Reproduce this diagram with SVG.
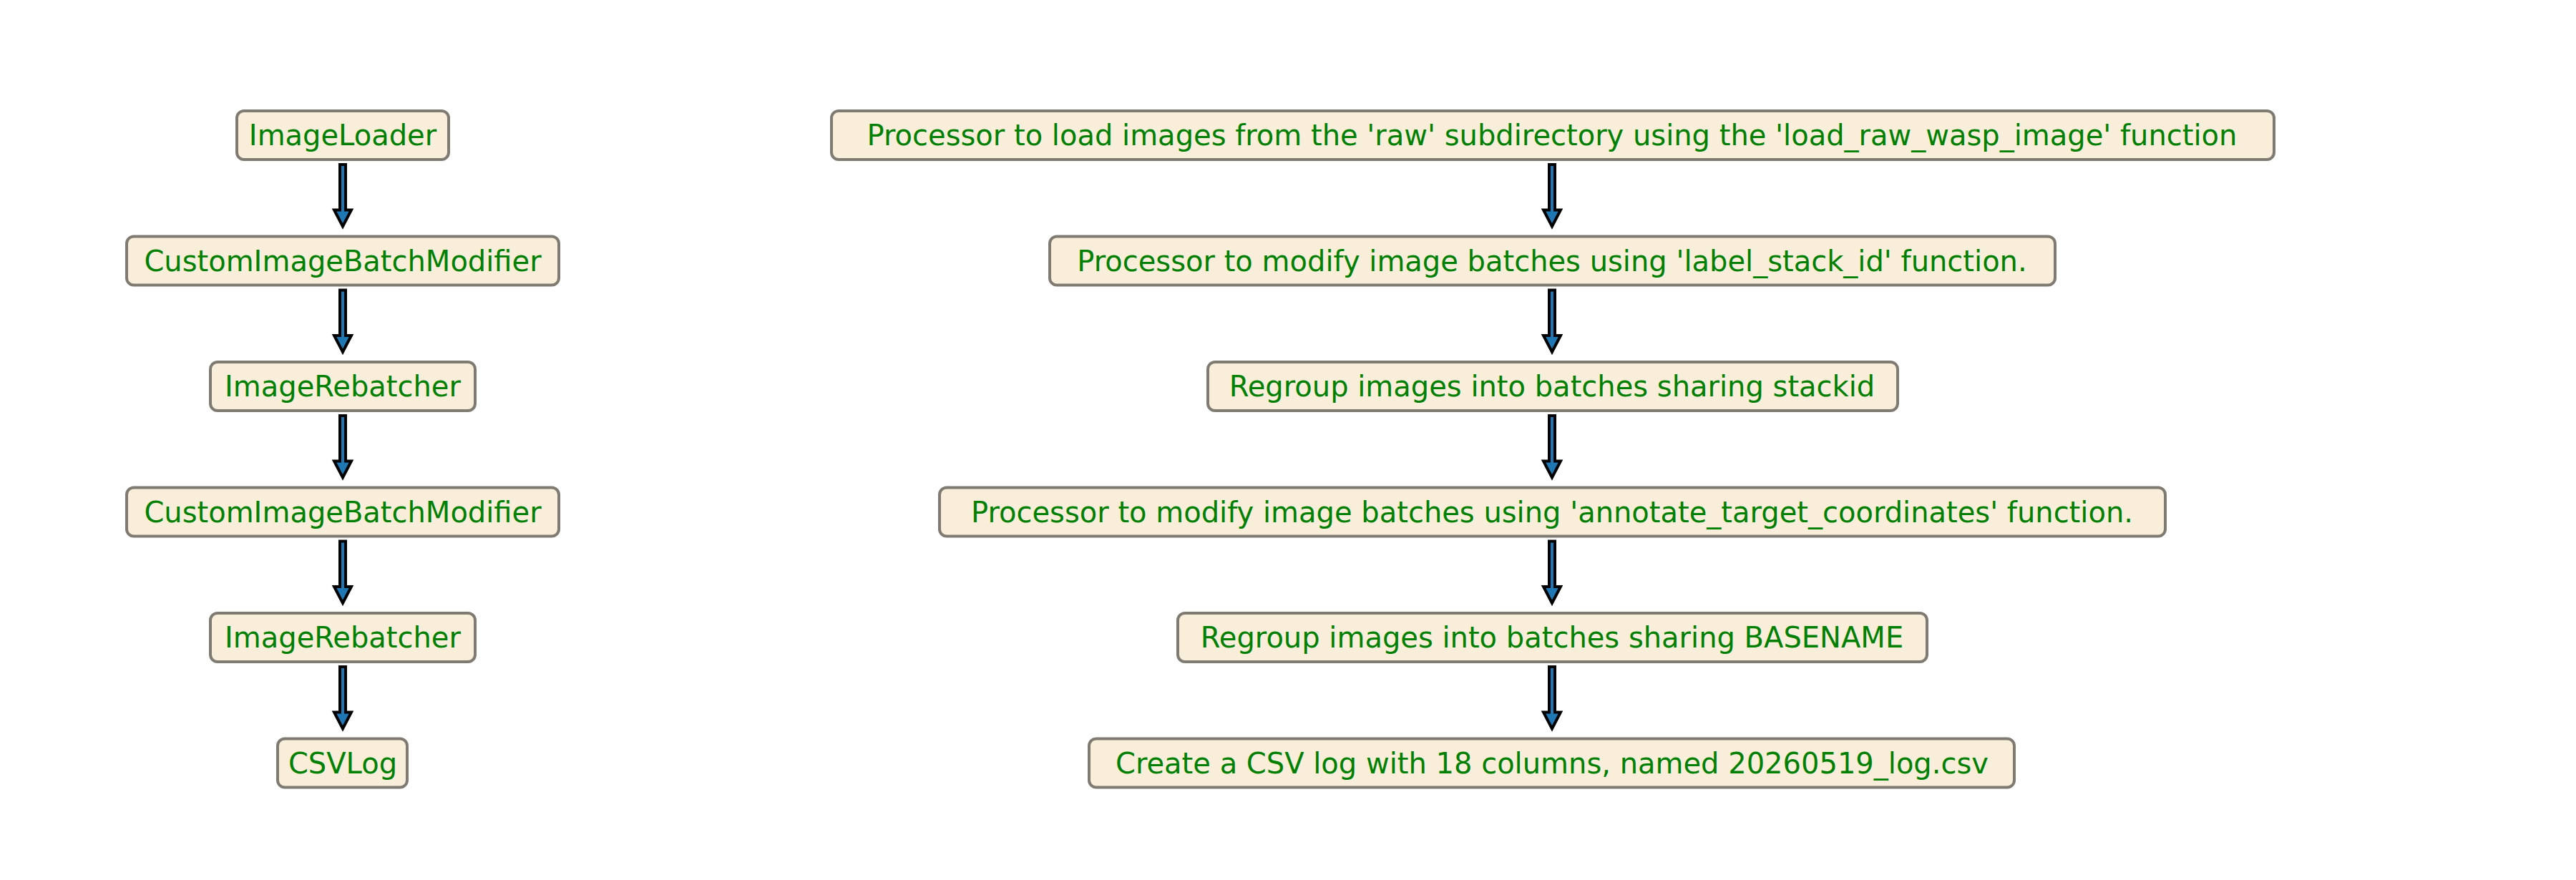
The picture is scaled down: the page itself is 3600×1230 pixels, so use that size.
<svg xmlns="http://www.w3.org/2000/svg" width="3600" height="1230" viewBox="0 0 3600 1230">
<style>
.b{fill:#f8eed9;stroke:#7f7a72;stroke-width:4}
.t{font-family:"DejaVu Sans",sans-serif;font-size:40px;fill:#008000;text-anchor:middle;dominant-baseline:central}
.a{fill:#1f77b4;stroke:#000;stroke-width:4;stroke-linejoin:miter}
</style>
<defs>
<path id="arr" class="a" d="M-4,0 L4,0 L4,63.5 L12,63.5 L0,86.5 L-12,63.5 L-4,63.5 Z"/>
</defs>
<rect width="3600" height="1230" fill="#fff"/>
<g id="l1"><rect class="b" x="331" y="155" width="296" height="68" rx="10"/><text class="t" x="479" y="189">ImageLoader</text></g>
<g id="l2"><rect class="b" x="177" y="330.5" width="604" height="68" rx="10"/><text class="t" x="479" y="364.5">CustomImageBatchModifier</text></g>
<g id="l3"><rect class="b" x="294" y="506" width="370" height="68" rx="10"/><text class="t" x="479" y="540">ImageRebatcher</text></g>
<g id="l4"><rect class="b" x="177" y="681.5" width="604" height="68" rx="10"/><text class="t" x="479" y="715.5">CustomImageBatchModifier</text></g>
<g id="l5"><rect class="b" x="294" y="857" width="370" height="68" rx="10"/><text class="t" x="479" y="891">ImageRebatcher</text></g>
<g id="l6"><rect class="b" x="388" y="1032.5" width="181" height="68" rx="10"/><text class="t" x="479" y="1066.5">CSVLog</text></g>
<g id="r1"><rect class="b" x="1162" y="155" width="2016" height="68" rx="10"/><text class="t" x="2169" y="189">Processor to load images from the 'raw' subdirectory using the 'load_raw_wasp_image' function</text></g>
<g id="r2"><rect class="b" x="1467" y="330.5" width="1405" height="68" rx="10"/><text class="t" x="2169" y="364.5">Processor to modify image batches using 'label_stack_id' function.</text></g>
<g id="r3"><rect class="b" x="1688" y="506" width="964" height="68" rx="10"/><text class="t" x="2169" y="540">Regroup images into batches sharing stackid</text></g>
<g id="r4"><rect class="b" x="1313" y="681.5" width="1713" height="68" rx="10"/><text class="t" x="2169" y="715.5">Processor to modify image batches using 'annotate_target_coordinates' function.</text></g>
<g id="r5"><rect class="b" x="1646" y="857" width="1047" height="68" rx="10"/><text class="t" x="2169" y="891">Regroup images into batches sharing BASENAME</text></g>
<g id="r6"><rect class="b" x="1522" y="1032.5" width="1293" height="68" rx="10"/><text class="t" x="2169" y="1066.5">Create a CSV log with 18 columns, named 20260519_log.csv</text></g>
<g id="connectors">
<use href="#arr" x="479" y="230"/><use href="#arr" x="479" y="405.5"/><use href="#arr" x="479" y="581"/><use href="#arr" x="479" y="756.5"/><use href="#arr" x="479" y="932"/>
<use href="#arr" x="2169" y="230"/><use href="#arr" x="2169" y="405.5"/><use href="#arr" x="2169" y="581"/><use href="#arr" x="2169" y="756.5"/><use href="#arr" x="2169" y="932"/>
</g>
</svg>
